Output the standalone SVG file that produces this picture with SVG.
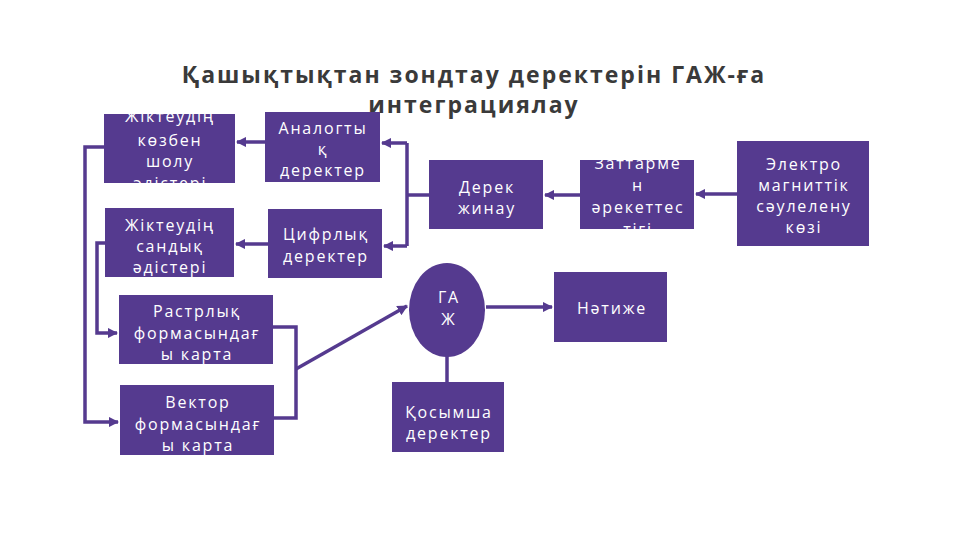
<svg xmlns="http://www.w3.org/2000/svg" width="960" height="540" viewBox="0 0 960 540">
<style>
.box{fill:#553a8f}
.t{font-family:"Open Sans","DejaVu Sans",sans-serif;font-size:16px;fill:#ffffff;text-anchor:middle;letter-spacing:1.8px}
.title{font-family:"Open Sans","DejaVu Sans",sans-serif;font-size:23px;font-weight:bold;fill:#3a3a3a;text-anchor:middle;letter-spacing:2px}
.c{fill:none;stroke:#553a8f;stroke-width:3.5}
</style>
<defs>
<marker id="ah" viewBox="0 0 10 10" refX="9" refY="5" markerWidth="3" markerHeight="3" orient="auto" markerUnits="strokeWidth">
<path d="M0,0 L10,5 L0,10 z" fill="#553a8f"/>
</marker>
<clipPath id="clipA"><rect x="104" y="114" width="131" height="69"/></clipPath>
<clipPath id="clipH"><rect x="580" y="160" width="114" height="69"/></clipPath>
</defs>
<rect width="960" height="540" fill="#ffffff"/>
<g id="title">
<text class="title" x="474" y="83">Қашықтықтан зондтау деректерін ГАЖ-ға</text>
<text class="title" x="474" y="113">интеграциялау</text>
</g>
<g id="connectors">
<line class="c" x1="737" y1="194" x2="696" y2="194" marker-end="url(#ah)"/>
<line class="c" x1="580" y1="195" x2="545" y2="195" marker-end="url(#ah)"/>
<polyline class="c" points="429,195 407,195"/>
<polyline class="c" points="407,143 407,246"/>
<line class="c" x1="407" y1="143" x2="382" y2="143" marker-end="url(#ah)"/>
<line class="c" x1="407" y1="246" x2="384" y2="246" marker-end="url(#ah)"/>
<line class="c" x1="265" y1="142" x2="237" y2="142" marker-end="url(#ah)"/>
<line class="c" x1="268" y1="244" x2="236" y2="244" marker-end="url(#ah)"/>
<polyline class="c" points="104,147 85,147 85,422 118,422" marker-end="url(#ah)"/>
<polyline class="c" points="105,243 97,243 97,333 117,333" marker-end="url(#ah)"/>
<polyline class="c" points="273,327 296,327 296,418 274,418"/>
<line class="c" x1="296" y1="369" x2="407" y2="306" marker-end="url(#ah)"/>
<line class="c" x1="486" y1="307" x2="552" y2="307" marker-end="url(#ah)"/>
<line class="c" x1="447" y1="356" x2="447" y2="383"/>
</g>
<g id="n-vizual">
<rect class="box" x="104" y="114" width="131" height="69"/>
<g clip-path="url(#clipA)">
<text class="t" x="170" y="122">Жіктеудің</text>
<text class="t" x="170" y="146">көзбен</text>
<text class="t" x="170" y="167">шолу</text>
<text class="t" x="170" y="189">әдістері</text>
</g>
</g>
<g id="n-analog">
<rect class="box" x="265" y="112" width="115" height="70"/>
<text class="t" x="323" y="134">Аналогты</text>
<text class="t" x="323" y="155">қ</text>
<text class="t" x="323" y="176">деректер</text>
</g>
<g id="n-sandyk">
<rect class="box" x="105" y="208" width="129" height="69"/>
<text class="t" x="170" y="231">Жіктеудің</text>
<text class="t" x="170" y="252">сандық</text>
<text class="t" x="170" y="273">әдістері</text>
</g>
<g id="n-cifr">
<rect class="box" x="268" y="209" width="114" height="69"/>
<text class="t" x="326" y="240">Цифрлық</text>
<text class="t" x="326" y="262">деректер</text>
</g>
<g id="n-raster">
<rect class="box" x="119" y="295" width="154" height="69"/>
<text class="t" x="197" y="317">Растрлық</text>
<text class="t" x="197" y="339">формасындағ</text>
<text class="t" x="197" y="360">ы карта</text>
</g>
<g id="n-vector">
<rect class="box" x="120" y="385" width="154" height="70"/>
<text class="t" x="198" y="408">Вектор</text>
<text class="t" x="198" y="430">формасындағ</text>
<text class="t" x="198" y="451">ы карта</text>
</g>
<g id="n-zhinau">
<rect class="box" x="429" y="160" width="114" height="69"/>
<text class="t" x="487" y="193">Дерек</text>
<text class="t" x="487" y="214">жинау</text>
</g>
<g id="n-zattar">
<rect class="box" x="580" y="160" width="114" height="69"/>
<g clip-path="url(#clipH)">
<text class="t" x="638" y="169">Заттарме</text>
<text class="t" x="638" y="191">н</text>
<text class="t" x="638" y="213">әрекеттес</text>
<text class="t" x="638" y="235">тігі</text>
</g>
</g>
<g id="n-elektro">
<rect class="box" x="737" y="141" width="132" height="105"/>
<text class="t" x="804" y="170">Электро</text>
<text class="t" x="804" y="191">магниттік</text>
<text class="t" x="804" y="212">сәулелену</text>
<text class="t" x="804" y="233">көзі</text>
</g>
<g id="n-gaz">
<ellipse class="box" cx="447" cy="310" rx="38" ry="47"/>
<text class="t" x="449" y="303">ГА</text>
<text class="t" x="449" y="325">Ж</text>
</g>
<g id="n-natije">
<rect class="box" x="554" y="272" width="113" height="70"/>
<text class="t" x="612" y="314">Нәтиже</text>
</g>
<g id="n-kosymsha">
<rect class="box" x="392" y="382" width="112" height="70"/>
<text class="t" x="449" y="418">Қосымша</text>
<text class="t" x="449" y="439">деректер</text>
</g>
</svg>
